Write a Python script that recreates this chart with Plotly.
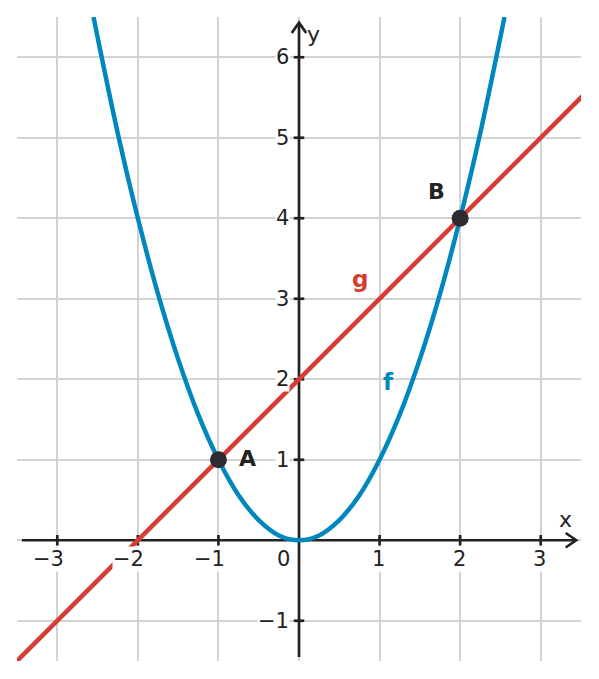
import plotly.graph_objects as go

# f(x) = x^2
f_x = [-2.55, -2.5, -2.25, -2.0, -1.75, -1.5, -1.25, -1.0, -0.75, -0.5, -0.25, 0.0,
       0.25, 0.5, 0.75, 1.0, 1.25, 1.5, 1.75, 2.0, 2.25, 2.5, 2.55]
f_y = [6.5, 6.25, 5.06, 4.0, 3.06, 2.25, 1.56, 1.0, 0.56, 0.25, 0.06, 0.0,
       0.06, 0.25, 0.56, 1.0, 1.56, 2.25, 3.06, 4.0, 5.06, 6.25, 6.5]

# g(x) = x + 2
g_x = [-3.6, 3.6]
g_y = [-1.6, 5.6]

# intersection points
pt_names = ["A", "B"]
pt_x = [-1, 2]
pt_y = [1, 4]

x_ticks = [-3, -2, -1, 1, 2, 3]
y_ticks = [-1, 1, 2, 3, 4, 5, 6]

BLUE = "#0088bd"
RED = "#d63c36"
DARK = "#222222"
FONT = "DejaVu Sans"
TICK_SIZE = 21

fig = go.Figure()

fig.add_trace(go.Scatter(x=f_x, y=f_y, mode="lines", line=dict(color=BLUE, width=4.5, shape="spline"),
                         hoverinfo="skip"))
fig.add_trace(go.Scatter(x=g_x, y=g_y, mode="lines", line=dict(color=RED, width=4.5),
                         hoverinfo="skip"))
fig.add_trace(go.Scatter(x=pt_x, y=pt_y, mode="markers",
                         marker=dict(color="#2b2b30", size=17), hoverinfo="skip"))

# axes drawn by hand (with chevron arrows)
xl, xr = -3.44, 3.44
yb, yt = -1.45, 6.43
ax_line = dict(color=DARK, width=2.7)
shapes = [
    dict(type="line", x0=xl, x1=xr, y0=0, y1=0, line=ax_line, layer="between"),
    dict(type="line", x0=0, x1=0, y0=yb, y1=yt, line=ax_line, layer="between"),
    dict(type="path", path=f"M {xr-0.13},0.09 L {xr},0 L {xr-0.13},-0.09",
         line=ax_line, layer="between"),
    dict(type="path", path=f"M -0.09,{yt-0.13} L 0,{yt} L 0.09,{yt-0.13}",
         line=ax_line, layer="between"),
]
for t in x_ticks:
    shapes.append(dict(type="line", x0=t, x1=t, y0=-0.065, y1=0.065, line=ax_line, layer="between"))
for t in y_ticks:
    shapes.append(dict(type="line", x0=-0.065, x1=0.065, y0=t, y1=t, line=ax_line, layer="between"))

annotations = []
for t in x_ticks:
    annotations.append(dict(x=t, y=0, text=str(t).replace("-", "\u2212"), showarrow=False,
                            yshift=-19, xshift=-9 if t < 0 else -1, bgcolor="white", borderpad=0,
                            font=dict(family=FONT, size=TICK_SIZE, color=DARK)))
for t in y_ticks:
    annotations.append(dict(x=0, y=t, text=str(t).replace("-", "\u2212"), showarrow=False,
                            xanchor="right", xshift=-9, bgcolor="white", borderpad=0,
                            font=dict(family=FONT, size=TICK_SIZE, color=DARK)))
annotations.append(dict(x=0, y=0, text="0", showarrow=False, xshift=-16, yshift=-19,
                        font=dict(family=FONT, size=TICK_SIZE, color=DARK)))
annotations.append(dict(x=0, y=yt, text="y", showarrow=False, xanchor="left", xshift=6, yshift=-12,
                        font=dict(family=FONT, size=22, color=DARK)))
annotations.append(dict(x=xr, y=0, text="x", showarrow=False, xshift=-11, yshift=21,
                        font=dict(family=FONT, size=22, color=DARK)))
annotations.append(dict(x=pt_x[0], y=pt_y[0], text="<b>%s</b>" % pt_names[0], showarrow=False,
                        xshift=29, yshift=1, font=dict(family=FONT, size=22, color=DARK)))
annotations.append(dict(x=pt_x[1], y=pt_y[1], text="<b>%s</b>" % pt_names[1], showarrow=False,
                        xshift=-24, yshift=27, font=dict(family=FONT, size=22, color=DARK)))
annotations.append(dict(x=0.76, y=3.25, text="<b>g</b>", showarrow=False,
                        font=dict(family=FONT, size=23, color=RED)))
annotations.append(dict(x=1.11, y=1.97, text="<b>f</b>", showarrow=False,
                        font=dict(family=FONT, size=23, color=BLUE)))

grid = dict(showgrid=True, gridcolor="#d3d3d3", gridwidth=1.6, dtick=1, tick0=0,
            zeroline=False, showticklabels=False, ticks="", showline=False, fixedrange=True)

# page body has an 8px margin, so the figure is sized to fit inside it
fig.update_layout(
    width=591, height=671,
    margin=dict(l=9, r=18, t=9, b=18),
    paper_bgcolor="white", plot_bgcolor="white",
    showlegend=False,
    shapes=shapes, annotations=annotations,
    xaxis=dict(range=[-3.5, 3.5], **grid),
    yaxis=dict(range=[-1.5, 6.5], **grid),
)

fig.write_html("out.html")
